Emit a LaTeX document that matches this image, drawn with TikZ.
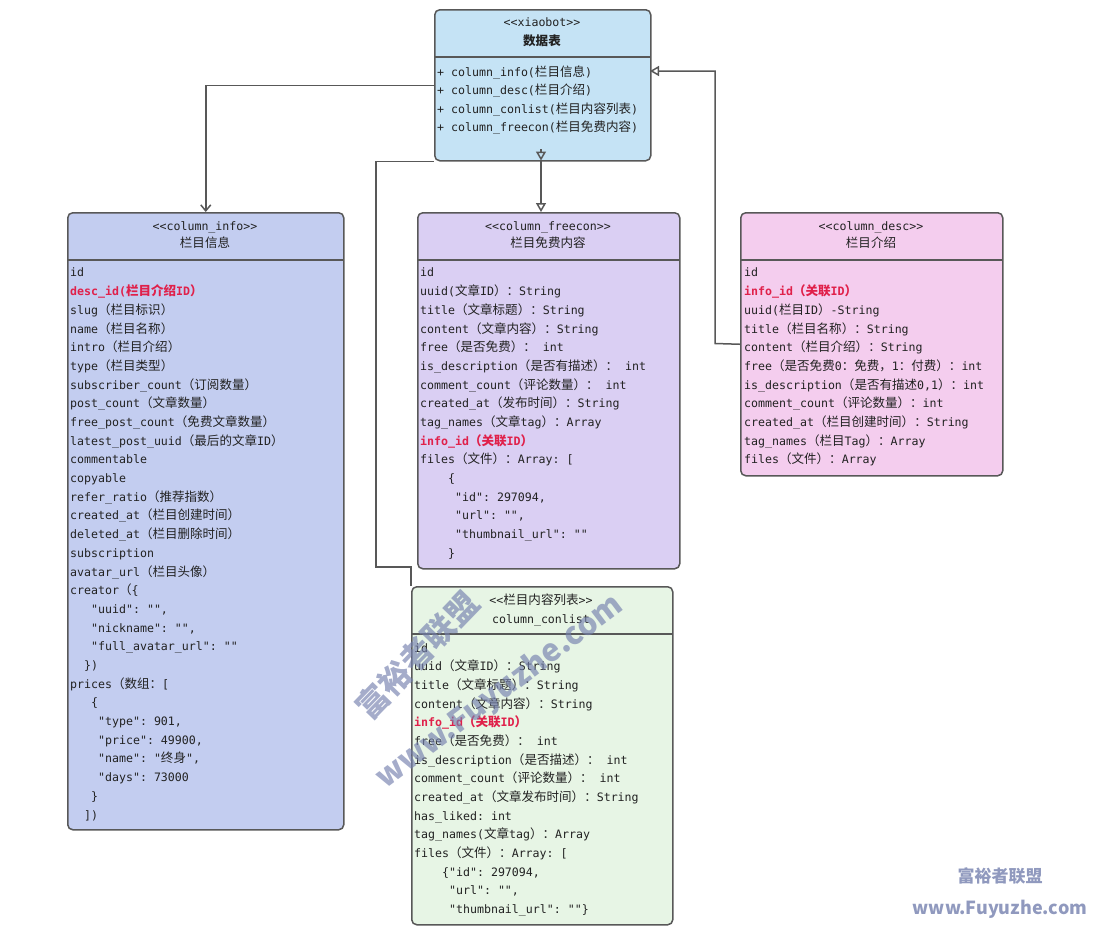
\documentclass[tikz,border=0pt]{standalone}
\usepackage{fontspec}
\setmonofont{DejaVu Sans Mono}
\newfontfamily\zhf{Noto Sans CJK SC}[Scale=1.08]
\newfontfamily\wmf{Noto Sans CJK SC}
\usetikzlibrary{arrows.meta}
\newcommand\zh[1]{{\zhf #1}}
\newcommand\ind[1]{\hspace*{#1\fontcharwd\font`0 }}
\newcommand\monof{\ttfamily\fontsize{11.6}{18.7}\selectfont}
\definecolor{linec}{HTML}{585858}
\definecolor{txt}{HTML}{222222}
\definecolor{redc}{HTML}{E0204A}
\definecolor{topc}{HTML}{C5E3F5}
\definecolor{infoc}{HTML}{C3CDF0}
\definecolor{freec}{HTML}{DACFF3}
\definecolor{descc}{HTML}{F4CDEE}
\definecolor{listc}{HTML}{E7F5E5}
\definecolor{wmc}{HTML}{7480AE}
\newcommand\redline[1]{{\color{redc}\bfseries #1}}
\begin{document}
\begin{tikzpicture}[x=1pt,y=-1pt,
  box/.style={draw=linec, line width=1.5pt, rounded corners=5pt, anchor=north west, inner sep=0pt},
  conn/.style={draw=linec, line width=1.5pt},
  attr/.style={anchor=base west, inner sep=0pt, font=\monof, text=txt},
  hdr/.style={anchor=base, inner sep=0pt, font=\monof, text=txt},
  wm/.style={inner sep=0pt, text=wmc, font=\wmf\bfseries}]
\useasboundingbox (0,0) rectangle (1099,938);

% boxes
\node[box, fill=topc, minimum width=216pt, minimum height=151pt] (top) at (434,9) {};
\node[box, fill=infoc, minimum width=276pt, minimum height=617pt] (info) at (67,212) {};
\node[box, fill=freec, minimum width=262pt, minimum height=356pt] (free) at (417,212) {};
\node[box, fill=descc, minimum width=262pt, minimum height=263pt] (desc) at (740,212) {};
\node[box, fill=listc, minimum width=261pt, minimum height=338pt] (list) at (411,586) {};

% dividers
\draw[conn] (434,57) -- (650,57);
\draw[conn] (67,260) -- (343,260);
\draw[conn] (417,260) -- (679,260);
\draw[conn] (740,260) -- (1002,260);
\draw[conn] (411,634) -- (672,634);

% connectors
\coordinate (tin) at (650,71);
\coordinate (tmark) at (541,149);
\coordinate (tbot) at (541,160.5);
\draw[conn, -{Straight Barb[length=6pt,width=10pt]}] (top.west) -| (info.north);
\draw[conn, -{Triangle[open,length=9pt,width=10pt]}] (tmark) -- (tbot);
\draw[conn, -{Triangle[open,length=9pt,width=10pt]}] (tbot) -- (free.north -| tbot);
\draw[conn, -{Triangle[open,length=9pt,width=10pt]}] (desc.west) -- (715,343.5) |- (tin);
\draw[conn] (list.north west) |- (376,567) |- (top.south west);

% headers
\node[hdr] (toph1) at (542,26) {<<xiaobot>>};
\node[hdr] (toph2) at (542,45.5) {\zhf\bfseries 数据表};
\node[hdr] (infoh1) at (205,230) {<<column\_info>>};
\node[hdr] (infoh2) at (205,247.5) {\zh{栏目信息}};
\node[hdr] (freeh1) at (548,230) {<<column\_freecon>>};
\node[hdr] (freeh2) at (548,247.5) {\zh{栏目免费内容}};
\node[hdr] (desch1) at (871,230) {<<column\_desc>>};
\node[hdr] (desch2) at (871,247.5) {\zh{栏目介绍}};
\node[hdr] (listh1) at (541,604.5) {<<\zh{栏目内容列表}>>};
\node[hdr] (listh2) at (541,623) {column\_conlist};

% top attributes
\foreach \t [count=\i] in {
 {+ column\_info(\zh{栏目信息})},
 {+ column\_desc(\zh{栏目介绍})},
 {+ column\_conlist(\zh{栏目内容列表})},
 {+ column\_freecon(\zh{栏目免费内容})}}
 {\node[attr] (topa\i) at (437,{57.5+18.5*\i}) {\t};}

% column_info attributes
\foreach \t [count=\i] in {
 {id},
 {\redline{desc\_id(\zh{栏目介绍}ID\zh{）}}},
 {slug\zh{（栏目标识）}},
 {name\zh{（栏目名称）}},
 {intro\zh{（栏目介绍）}},
 {type\zh{（栏目类型）}},
 {subscriber\_count\zh{（订阅数量）}},
 {post\_count\zh{（文章数量）}},
 {free\_post\_count\zh{（免费文章数量）}},
 {latest\_post\_uuid\zh{（最后的文章}ID\zh{）}},
 {commentable},
 {copyable},
 {refer\_ratio\zh{（推荐指数）}},
 {created\_at\zh{（栏目创建时间）}},
 {deleted\_at\zh{（栏目删除时间）}},
 {subscription},
 {avatar\_url\zh{（栏目头像）}},
 {creator\zh{（}\{},
 {\ind{3}"uuid": "",},
 {\ind{3}"nickname": "",},
 {\ind{3}"full\_avatar\_url": ""},
 {\ind{2}\})},
 {prices\zh{（数组：}[},
 {\ind{3}\{},
 {\ind{4}"type": 901,},
 {\ind{4}"price": 49900,},
 {\ind{4}"name": "\zh{终身}",},
 {\ind{4}"days": 73000},
 {\ind{3}\}},
 {\ind{2}])}}
 {\node[attr] (infoa\i) at (70,{258.3+18.69*\i}) {\t};}

% column_freecon attributes
\foreach \t [count=\i] in {
 {id},
 {uuid(\zh{文章}ID\zh{）：}String},
 {title\zh{（文章标题）：}String},
 {content\zh{（文章内容）：}String},
 {free\zh{（是否免费）：} int},
 {is\_description\zh{（是否有描述）：} int},
 {comment\_count\zh{（评论数量）：} int},
 {created\_at\zh{（发布时间）：}String},
 {tag\_names\zh{（文章}tag\zh{）：}Array},
 {\redline{info\_id\zh{（关联}ID\zh{）}}},
 {files\zh{（文件）：}Array: [},
 {\ind{4}\{},
 {\ind{5}"id": 297094,},
 {\ind{5}"url": "",},
 {\ind{5}"thumbnail\_url": ""},
 {\ind{4}\}}}
 {\node[attr] (freea\i) at (420,{258.3+18.69*\i}) {\t};}

% column_desc attributes
\foreach \t [count=\i] in {
 {id},
 {\redline{info\_id\zh{（关联}ID\zh{）}}},
 {uuid(\zh{栏目}ID\zh{）}-String},
 {title\zh{（栏目名称）：}String},
 {content\zh{（栏目介绍）：}String},
 {free\zh{（是否免费}0\zh{：免费，}1\zh{：付费）：}int},
 {is\_description\zh{（是否有描述}0,1\zh{）：}int},
 {comment\_count\zh{（评论数量）：}int},
 {created\_at\zh{（栏目创建时间）：}String},
 {tag\_names\zh{（栏目}Tag\zh{）：}Array},
 {files\zh{（文件）：}Array}}
 {\node[attr] (desca\i) at (744,{258.3+18.69*\i}) {\t};}

% column_conlist attributes
\foreach \t [count=\i] in {
 {id},
 {uuid\zh{（文章}ID\zh{）：}String},
 {title\zh{（文章标题）：}String},
 {content\zh{（文章内容）：}String},
 {\redline{info\_id\zh{（关联}ID\zh{）}}},
 {free\zh{（是否免费）：} int},
 {is\_description\zh{（是否描述）：} int},
 {comment\_count\zh{（评论数量）：} int},
 {created\_at\zh{（文章发布时间）：}String},
 {has\_liked: int},
 {tag\_names(\zh{文章}tag\zh{）：}Array},
 {files\zh{（文件）：}Array: [},
 {\ind{4}\{"id": 297094,},
 {\ind{5}"url": "",},
 {\ind{5}"thumbnail\_url": ""\}}}
 {\node[attr] (lista\i) at (414,{633.3+18.69*\i}) {\t};}

% watermarks
\node[wm, rotate=46, opacity=0.65, font=\wmf\bfseries\fontsize{32}{32}\selectfont] (wm1) at (417,655) {富裕者联盟};
\node[wm, rotate=37, opacity=0.65, font=\wmf\bfseries\fontsize{31}{31}\selectfont] (wm2) at (500,692) {www.Fuyuzhe.com};
\node[wm, opacity=0.8, font=\wmf\bfseries\fontsize{17}{17}\selectfont] (wm3) at (1000,876) {富裕者联盟};
\node[wm, opacity=0.8, font=\wmf\bfseries\fontsize{18}{18}\selectfont] (wm4) at (1000,909) {www.Fuyuzhe.com};
\end{tikzpicture}
\end{document}
